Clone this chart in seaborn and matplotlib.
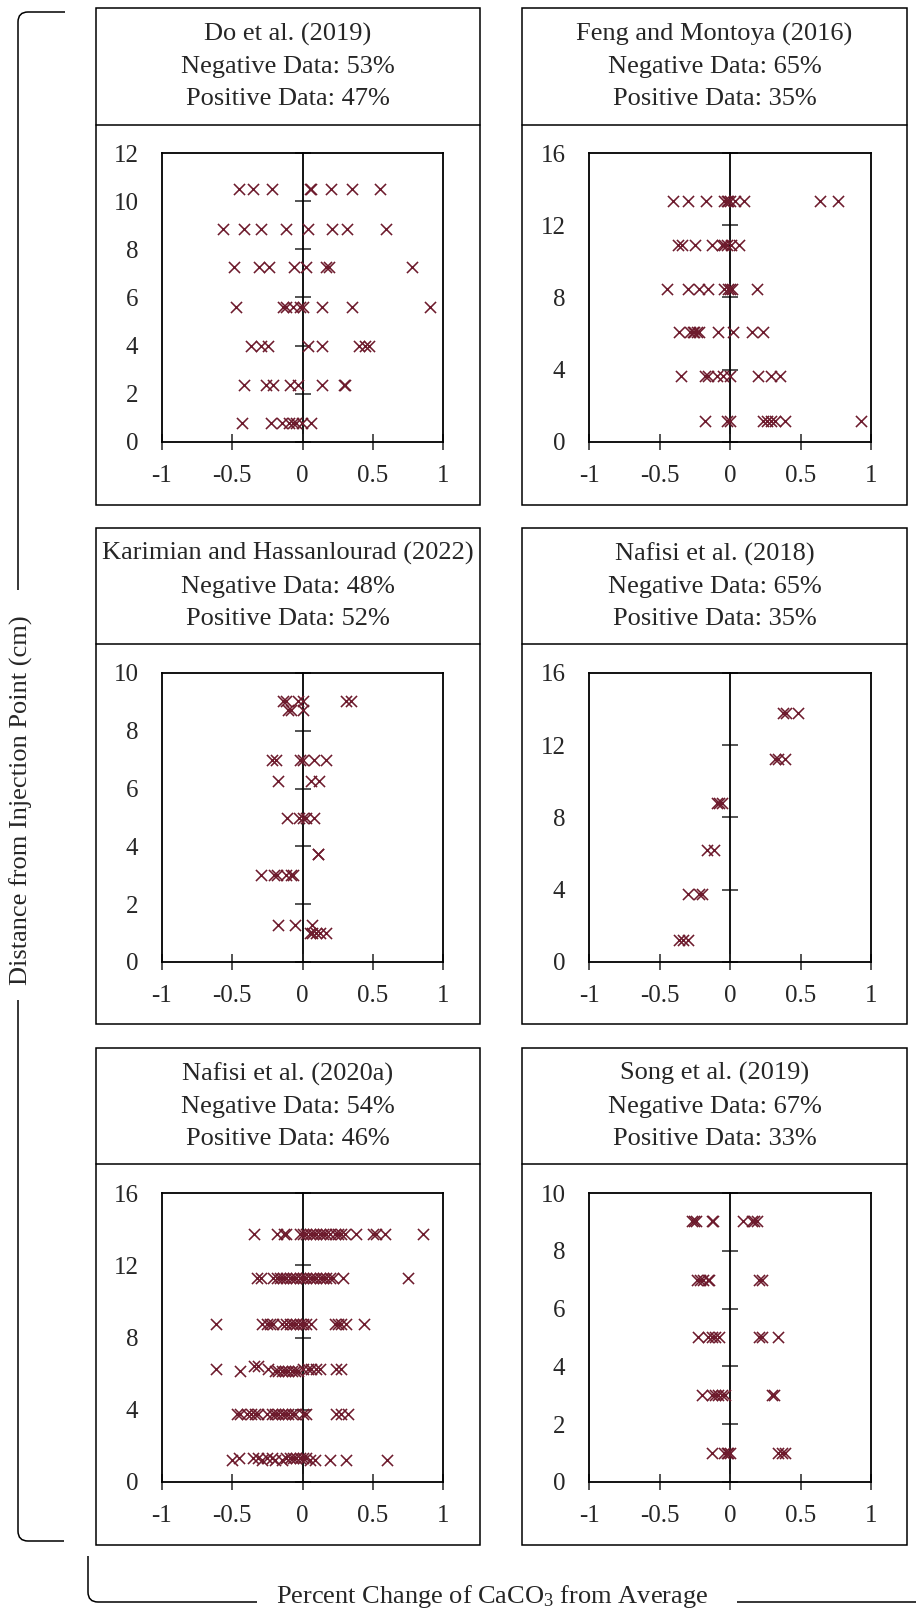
import numpy as np
import pandas as pd
import matplotlib.pyplot as plt
import seaborn as sns
from matplotlib.lines import Line2D
from matplotlib.patches import Rectangle, PathPatch
from matplotlib.path import Path

sns.set_style('white')
plt.rcParams['font.family'] = ['Liberation Serif', 'DejaVu Serif']
plt.rcParams['mathtext.fontset'] = 'custom'
plt.rcParams['mathtext.rm'] = 'Liberation Serif'
plt.rcParams['mathtext.default'] = 'regular'
plt.rcParams['axes.unicode_minus'] = False

# study headers
studies = ['Do et al. (2019)', 'Feng and Montoya (2016)',
           'Karimian and Hassanlourad (2022)', 'Nafisi et al. (2018)',
           'Nafisi et al. (2020a)', 'Song et al. (2019)']
neg_pct = [53, 65, 48, 65, 54, 67]
pos_pct = [47, 35, 52, 35, 46, 33]
y_max = [12, 16, 10, 16, 16, 10]
y_step = [2, 4, 2, 4, 4, 2]
x_ticks = [-1, -0.5, 0, 0.5, 1]
x_tick_labels = ['-1', '-0.5', '0', '0.5', '1']

# distance from injection point (cm) and percent change values at each distance
do_depth = [10.5, 8.85, 7.25, 5.6, 4.0, 2.38, 0.78]
do_change = [
    [-0.45, -0.35, -0.22, 0.05, 0.064, 0.20, 0.355, 0.55],
    [-0.563, -0.417, -0.293, -0.114, 0.04, 0.213, 0.317, 0.596],
    [-0.485, -0.308, -0.237, -0.059, 0.028, 0.17, 0.19, 0.779],
    [-0.473, -0.142, -0.118, -0.066, -0.019, 0.005, 0.14, 0.353, 0.909],
    [-0.367, -0.296, -0.249, 0.04, 0.14, 0.402, 0.443, 0.473],
    [-0.417, -0.26, -0.208, -0.09, -0.031, 0.14, 0.296, 0.305],
    [-0.428, -0.225, -0.149, -0.095, -0.066, -0.043, -0.007, 0.064],
]

feng_depth = [13.32, 10.89, 8.47, 6.07, 3.64, 1.18]
feng_change = [
    [-0.402, -0.296, -0.170, -0.040, -0.021, -0.012, 0.0, 0.036, 0.102, 0.639, 0.764],
    [-0.367, -0.338, -0.249, -0.130, -0.059, -0.040, -0.024, 0.007, 0.064],
    [-0.45, -0.296, -0.218, -0.159, -0.040, -0.017, 0.0, 0.012, 0.194],
    [-0.362, -0.284, -0.265, -0.253, -0.237, -0.220, -0.083, 0.024, 0.159, 0.237],
    [-0.350, -0.178, -0.154, -0.095, -0.047, 0.0, 0.196, 0.291, 0.355],
    [-0.178, -0.024, 0.0, 0.237, 0.260, 0.291, 0.320, 0.391, 0.930],
]

kh_depth = [9.02, 8.73, 7.0, 6.25, 5.0, 3.75, 3.02, 1.27, 1.0]
kh_change = [
    [-0.142, -0.114, -0.031, 0.0, 0.312, 0.348],
    [-0.102, -0.083, 0.0],
    [-0.220, -0.189, -0.019, 0.0, 0.080, 0.166],
    [-0.173, 0.064, 0.118],
    [-0.109, -0.024, 0.0, 0.028, 0.080],
    [0.107, 0.111],
    [-0.298, -0.201, -0.178, -0.118, -0.083, -0.066],
    [-0.173, -0.054, 0.071],
    [0.052, 0.071, 0.099, 0.123, 0.166],
]

n18_depth = [13.78, 11.26, 8.80, 6.22, 3.75, 1.24]
n18_change = [
    [0.379, 0.395, 0.480],
    [0.320, 0.343, 0.391],
    [-0.095, -0.078, -0.059],
    [-0.166, -0.114],
    [-0.301, -0.218, -0.201],
    [-0.362, -0.336, -0.301],
]

n20_depth = [13.75, 11.29, 8.77, 6.42, 6.25, 6.12, 3.78, 1.35, 1.2]
n20_change = [
    [-0.343, -0.178, -0.130, -0.114, -0.019, 0.005, 0.028, 0.052, 0.076, 0.099, 0.123,
     0.147, 0.170, 0.194, 0.230, 0.253, 0.277, 0.301, 0.379, 0.502, 0.521, 0.585, 0.857],
    [-0.327, -0.298, -0.208, -0.185, -0.161, -0.137, -0.114, -0.090, -0.066, -0.043, -0.019,
     0.005, 0.028, 0.052, 0.076, 0.099, 0.123, 0.147, 0.170, 0.194, 0.218, 0.289, 0.750],
    [-0.615, -0.291, -0.256, -0.232, -0.208, -0.149, -0.114, -0.090, -0.066, -0.043, -0.019,
     0.005, 0.028, 0.064, 0.230, 0.253, 0.277, 0.308, 0.436],
    [-0.343, -0.320],
    [-0.615, -0.244, 0.005, 0.040, 0.064, 0.099, 0.123, 0.241, 0.277],
    [-0.445, -0.196, -0.173, -0.149, -0.125, -0.102, -0.078, -0.054, -0.031],
    [-0.469, -0.445, -0.398, -0.367, -0.338, -0.315, -0.256, -0.220, -0.196, -0.173, -0.149,
     -0.125, -0.102, -0.078, -0.054, 0.005, 0.028, 0.241, 0.277, 0.324],
    [-0.450, -0.350, -0.315, -0.256, -0.220, -0.114, -0.090, -0.066, -0.043, -0.019, 0.005, 0.028],
    [-0.504, -0.291, -0.196, -0.149, 0.052, 0.088, 0.194, 0.312, 0.604],
]

song_depth = [9.02, 7.0, 5.02, 3.0, 1.0]
song_change = [
    [-0.272, -0.256, -0.241, -0.130, -0.118, 0.095, 0.154, 0.173, 0.189],
    [-0.237, -0.213, -0.189, -0.159, -0.147, 0.208, 0.225],
    [-0.225, -0.154, -0.130, -0.107, -0.078, 0.208, 0.225, 0.338],
    [-0.196, -0.125, -0.107, -0.083, -0.054, -0.036, 0.301, 0.315],
    [-0.130, -0.040, -0.024, -0.012, 0.0, 0.343, 0.367, 0.391],
]


def to_frame(depths, changes):
    pairs = [(x, d) for d, xs in zip(depths, changes) for x in xs]
    return pd.DataFrame(pairs, columns=['change', 'depth'])


frames = [to_frame(do_depth, do_change), to_frame(feng_depth, feng_change),
          to_frame(kh_depth, kh_change), to_frame(n18_depth, n18_change),
          to_frame(n20_depth, n20_change), to_frame(song_depth, song_change)]

RED = '#6D1B2D'
W, H = 916, 1621
fig = plt.figure(figsize=(W / 100, H / 100), dpi=100)


def fx(px):
    return px / W


def fy(py):
    return 1 - py / H


# layout in pixels: (outer left, outer right, axes left, axes right)
col_x = [(96, 480, 162, 443), (522, 907, 589, 871)]
# (outer top, header bottom, outer bottom, axes top, axes bottom)
row_y = [(8, 125, 505, 153, 442), (528, 644, 1024, 673, 962), (1048, 1164, 1545, 1193, 1482)]

for i, df in enumerate(frames):
    ox0, ox1, ax0, ax1 = col_x[i % 2]
    oy0, hy, oy1, ay0, ay1 = row_y[i // 2]

    fig.add_artist(Rectangle((fx(ox0), fy(oy1)), fx(ox1) - fx(ox0), fy(oy0) - fy(oy1),
                             transform=fig.transFigure, fill=False, lw=1.1, ec='black'))
    fig.add_artist(Line2D([fx(ox0), fx(ox1)], [fy(hy), fy(hy)],
                          transform=fig.transFigure, lw=1.1, color='black'))
    fig.text(fx((ox0 + ox1) / 2), fy((oy0 + hy) / 2),
             f"{studies[i]}\nNegative Data: {neg_pct[i]}%\nPositive Data: {pos_pct[i]}%",
             ha='center', va='center', fontsize=19, linespacing=1.6)

    ax = fig.add_axes([fx(ax0), fy(ay1), fx(ax1) - fx(ax0), fy(ay0) - fy(ay1)])
    sns.scatterplot(data=df, x='change', y='depth', marker='x', color=RED, s=64,
                    linewidth=1.15, ax=ax, legend=False)
    ax.set_xlim(-1, 1)
    ax.set_ylim(0, y_max[i])
    ax.set_xlabel('')
    ax.set_ylabel('')
    ax.set_xticks(x_ticks)
    ax.set_xticklabels(x_tick_labels)
    yt = np.arange(0, y_max[i] + 1, y_step[i])
    ax.set_yticks(yt)
    ax.set_yticklabels([str(v) for v in yt])
    ax.tick_params(axis='x', direction='inout', length=11, width=1.1, pad=11,
                   labelsize=18, bottom=True, top=False)
    ax.tick_params(axis='y', length=0, pad=17, labelsize=18, left=True, right=False)
    for sp in ax.spines.values():
        sp.set_linewidth(1.3)
        sp.set_color('black')

    # vertical axis through zero with crossing ticks
    sec = ax.secondary_yaxis(0.5)
    sec.set_yticks(yt)
    sec.tick_params(direction='inout', length=11, width=1.1,
                    labelleft=False, labelright=False)
    for sp in sec.spines.values():
        sp.set_linewidth(1.3)
        sp.set_color('black')


def bracket(points, codes):
    verts = [(fx(px), fy(py)) for px, py in points]
    fig.add_artist(PathPatch(Path(verts, codes), transform=fig.transFigure,
                             fill=False, lw=1.1, ec='black'))


M, L, C = Path.MOVETO, Path.LINETO, Path.CURVE3
bracket([(65, 12), (28, 12), (18, 12), (18, 22), (18, 590)], [M, L, C, C, L])
bracket([(18, 1000), (18, 1531), (18, 1541), (28, 1541), (64, 1541)], [M, L, C, C, L])
bracket([(88, 1556), (88, 1592), (88, 1602), (98, 1602), (257, 1602)], [M, L, C, C, L])
bracket([(737, 1602), (916, 1602)], [M, L])

fig.text(fx(21), fy(800), 'Distance from Injection Point (cm)', rotation=90,
         ha='center', va='center', fontsize=19)
fig.text(fx(492), fy(1597), 'Percent Change of CaCO$_3$ from Average',
         ha='center', va='center', fontsize=19)

fig.savefig('out.png', dpi=100)
